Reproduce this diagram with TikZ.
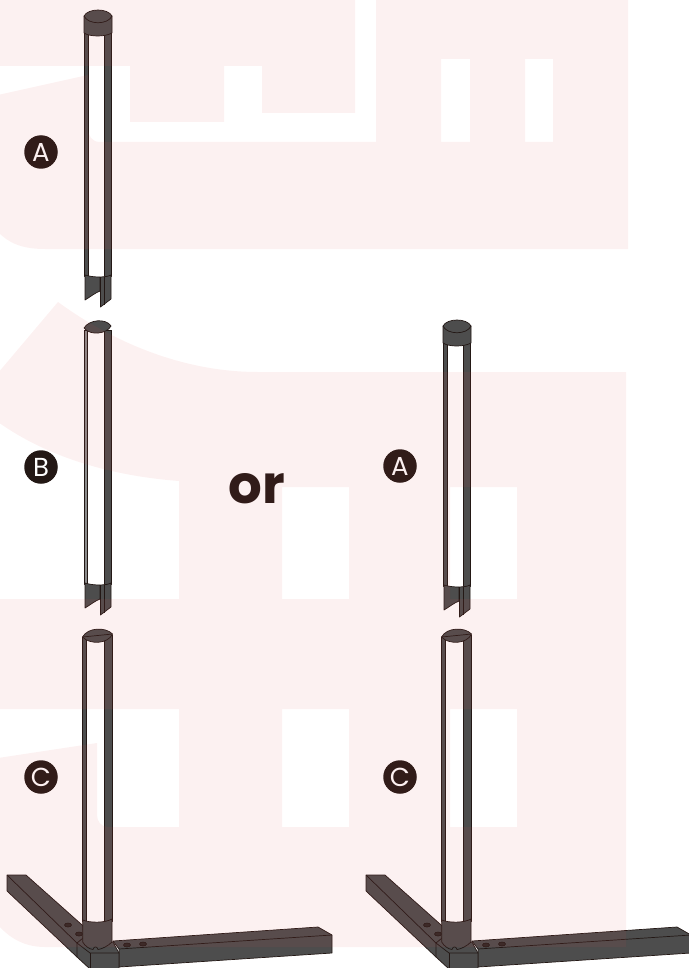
\documentclass[tikz,border=0pt]{standalone}
\usepackage{fontspec}
\usepackage{xcolor}
\setsansfont{Poppins}
\definecolor{inkdark}{RGB}{35, 24, 21}
\definecolor{metalgray}{RGB}{77, 77, 77}
\definecolor{markred}{RGB}{220, 75, 75}

\begin{document}
\begin{tikzpicture}[
    x=1pt, y=-1pt,
    part/.style={draw=inkdark, line width=0.7pt, line join=round, fill=metalgray},
    thin part/.style={draw=inkdark, line width=0.7pt, line join=round},
    hole/.style={draw=inkdark, line width=0.6pt, fill=inkdark!70!metalgray},
    badge/.style={circle, fill=inkdark, text=white, minimum size=33.5pt, inner sep=0pt,
                  font=\sffamily\fontsize{26}{26}\selectfont},
    watermark/.style={fill=markred, fill opacity=0.08, even odd rule},
    pics/tabs/.style={code={
        \draw[part] (85,275) -- (85,300) .. controls (90,297) and (95,293) .. (100,291)
            -- (100,277) .. controls (95,277) and (90,276.5) .. (85,275) -- cycle;
        \draw[part] (100.5,277) -- (100.5,307) -- (111,299) -- (111,275)
            .. controls (108,276.5) and (104,277) .. (100.5,277) -- cycle;
        \draw[thin part] (104,277) -- (104,304.5);
    }},
    pics/capped tube/.style={code={
        \draw[part] (84.5,30) rectangle (88,276);
        \draw[part] (104,30) rectangle (111.5,276);
        \pic {tabs};
        \draw[part] (84,16) -- (84,33) .. controls (90,37) and (105,37) .. (112,33)
            -- (112,16) .. controls (108,8) and (88,8) .. (84,16) -- cycle;
        \draw[thin part] (84,16) .. controls (88,25) and (108,25) .. (112,16);
    }},
    pics/domed tube/.style={code={
        \draw[part, fill=metalgray!65] (84.5,330) rectangle (87,584);
        \draw[part] (104,330) rectangle (111.5,584);
        \pic at (0,308) {tabs};
        \draw[part] (84,328) .. controls (89,319.5) and (106,318) .. (111,326)
            .. controls (107,334) and (90,336) .. (84,328) -- cycle;
    }},
    pics/base tube/.style={code={
        % Left arm
        \draw[part] (7,875) -- (26,875) -- (90,932) -- (90,953) -- (77,957) -- (7,891) -- cycle;
        \draw[thin part] (7,875) -- (77,943);
        \draw[hole] (68,925) ellipse (3.5 and 2);
        \draw[hole] (79,934) ellipse (3.5 and 2);
        % Right arm
        \draw[part] (113,941) -- (318,927) -- (332,935) -- (332,953) -- (119,967) -- (119,949) -- cycle;
        \draw[thin part] (119,949) -- (332,935);
        \draw[hole] (127,945) ellipse (3.5 and 2);
        \draw[hole] (143,944) ellipse (3.5 and 2);
        % Corner block
        \draw[part] (77,943) -- (83,938) -- (113,942) -- (119,953) -- (119,969) -- (90,969) -- (77,957) -- cycle;
        \draw[thin part] (77,943) -- (90,953) -- (119,953);
        \draw[thin part] (90,953) -- (90,969);
        % Upright
        \draw[part] (82.5,637) rectangle (86,921);
        \draw[part] (104.5,635) rectangle (112.5,921);
        \draw[part] (82.7,920) .. controls (90,923) and (105,923) .. (112,919) -- (112,942)
            .. controls (108,946) and (102,949) .. (98,949.5) .. controls (97,946) and (94,946) .. (93,949.5)
            .. controls (89,949) and (85,946) .. (82.7,942) -- cycle;
        \draw[part] (82.5,637) .. controls (88,627) and (106,627) .. (112.5,634)
            .. controls (108,644) and (90,645) .. (82.5,637) -- cycle;
        \draw[thin part] (82.5,637) -- (112.5,634);
    }}
]
\useasboundingbox (0,0) rectangle (688,968);

% Left column
\pic {capped tube};
\pic {domed tube};
\pic {base tube};
\node[badge] (labelA) at (41,152) {A};
\node[badge] (labelB) at (41,467) {B};
\node[badge] (labelC) at (41,777) {C};

% Right column
\pic at (359,310) {capped tube};
\pic at (359,0) {base tube};
\node[badge] (labelAright) at (400,466) {A};
\node[badge] (labelCright) at (400,777) {C};

\node[text=inkdark, inner sep=0pt, font=\sffamily\bfseries\fontsize{53}{53}\selectfont] (orword) at (256.5,489) {or};

% Pale shapes over everything
\fill[watermark] (0,-2) -- (628,-2) -- (628,249) -- (45,249) .. controls (20,249) and (8,242) .. (-2,232) -- cycle
    (-2,66) -- (130,66) -- (130,122) -- (224,122) -- (224,66) -- (262,66) -- (262,113) -- (355,113)
        -- (355,-2) -- (376,-2) -- (376,142) -- (100,142) .. controls (92,142) and (88,136) .. (88,128)
        -- (88,75) -- (-2,95) -- cycle
    (441,59) rectangle (470,142)
    (525,59) rectangle (553,142);
\fill[watermark] (-2,373) -- (58,302) .. controls (110,340) and (180,372) .. (258,372) -- (626,372) -- (626,947)
        -- (45,947) .. controls (22,947) and (8,936) .. (-2,925) -- cycle
    (-2,422) .. controls (40,452) and (100,475) .. (179,481) -- (179,599) -- (-2,599) -- cycle
    (282,487) rectangle (349,599)
    (450,487) rectangle (517,599)
    (-2,709) -- (179,709) -- (179,827) -- (108,827) .. controls (101,827) and (97,821) .. (97,815)
        -- (97,743) -- (-2,758) -- cycle
    (282,709) rectangle (349,827)
    (450,709) rectangle (517,827);

\end{tikzpicture}
\end{document}
